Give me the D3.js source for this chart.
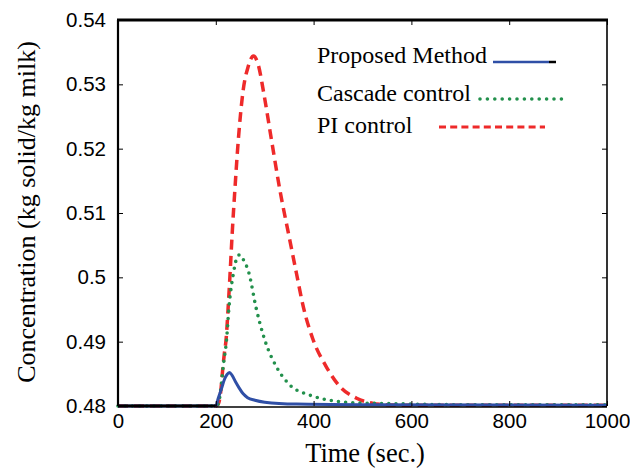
<!DOCTYPE html>
<html><head><meta charset="utf-8">
<script src="https://cdn.jsdelivr.net/npm/d3@7"></script>
<style>body{margin:0;background:#fff}</style>
</head><body>
<svg id="c" width="630" height="472"></svg>
<script>
// ---- data ----
const xTicks = [0, 200, 400, 600, 800, 1000];
const yTicks = [0.48, 0.49, 0.50, 0.51, 0.52, 0.53, 0.54];
const yTickLabels = ["0.48", "0.49", "0.5", "0.51", "0.52", "0.53", "0.54"];
const seriesNames = ["Proposed Method", "Cascade control", "PI control"];

const piT = [0, 200, 205, 210, 214, 218, 221, 225, 229, 233.5, 239, 246, 256, 266, 277, 288, 297, 314, 331, 350, 365, 379, 399, 426, 454, 488, 522, 549, 600, 700, 1000];
const piV = [0.48, 0.48, 0.4803, 0.4822, 0.4856, 0.4885, 0.4903, 0.4950, 0.5003, 0.5068, 0.5136, 0.5213, 0.5291, 0.5327, 0.5344, 0.5327, 0.5291, 0.5213, 0.5136, 0.5063, 0.5006, 0.4954, 0.4903, 0.4861, 0.4830, 0.4812, 0.4804, 0.4802, 0.4801, 0.4801, 0.4801];

const cascT = [0, 200, 205, 210, 215, 222, 227, 236, 243, 249, 256, 268, 282, 300, 324, 351, 392, 440, 481, 535, 600, 700, 1000];
const cascV = [0.48, 0.48, 0.4803, 0.4825, 0.4861, 0.4903, 0.4954, 0.5006, 0.5030, 0.5035, 0.5028, 0.5006, 0.4954, 0.4903, 0.4861, 0.4833, 0.4817, 0.4808, 0.4805, 0.4804, 0.4803, 0.4802, 0.4802];

const propT = [0, 200, 205, 212, 218, 223, 228, 233, 240, 247, 256, 265, 280, 300, 365, 500, 1000];
const propV = [0.48, 0.48, 0.4812, 0.4828, 0.4842, 0.4849, 0.4852, 0.4848, 0.4838, 0.4829, 0.4819, 0.4813, 0.4809, 0.4806, 0.4803, 0.4802, 0.4801];

// ---- layout ----
const L = 118, R = 607, T = 20, B = 406;
const svg = d3.select("#c");
const x = d3.scaleLinear().domain([0, 1000]).range([L, R]);
const y = d3.scaleLinear().domain([0.48, 0.54]).range([B, T]);
const sans = "'Liberation Sans', Arial, sans-serif";
const serif = "'Liberation Serif', 'Times New Roman', serif";

const colors = ["#2f4fa6", "#22904c", "#ee2a2a"];

// lines
const line = d3.line().x(d => x(d[0])).y(d => y(d[1])).curve(d3.curveMonotoneX);
const zip = (a, b) => a.map((t, i) => [t, b[i]]);

const g = svg.append("g");
g.append("path").datum(zip(piT, piV)).attr("d", line)
  .attr("fill", "none").attr("stroke", colors[2]).attr("stroke-width", 3.5)
  .attr("stroke-dasharray", "10,6");
g.append("path").datum(zip(cascT, cascV)).attr("d", line)
  .attr("fill", "none").attr("stroke", colors[1]).attr("stroke-width", 3.6)
  .attr("stroke-linecap", "round").attr("stroke-dasharray", "0,7.2");
g.append("path").datum(zip(propT, propV)).attr("d", line)
  .attr("fill", "none").attr("stroke", colors[0]).attr("stroke-width", 3);

// axes (ticks inward)
const xAxis = d3.axisBottom(x).tickValues(xTicks).tickSizeInner(-5).tickSizeOuter(0).tickPadding(7.5).tickFormat(d3.format("d"));
const xg = svg.append("g").attr("transform", `translate(0,${B})`).call(xAxis);
const yAxis = d3.axisLeft(y).tickValues(yTicks).tickSizeInner(-5).tickSizeOuter(0).tickPadding(12)
  .tickFormat((d, i) => yTickLabels[i]);
const yg = svg.append("g").attr("transform", `translate(${L},0)`).call(yAxis);
const xTop = d3.axisTop(x).tickValues(xTicks).tickSizeInner(-5).tickSizeOuter(0).tickFormat("");
svg.append("g").attr("transform", `translate(0,${T})`).call(xTop);
const yRight = d3.axisRight(y).tickValues(yTicks).tickSizeInner(-5).tickSizeOuter(0).tickFormat("");
svg.append("g").attr("transform", `translate(${R},0)`).call(yRight);

svg.selectAll(".domain").remove();
svg.selectAll(".tick line").attr("stroke", "#000").attr("stroke-width", 1);
svg.selectAll(".tick text").attr("font-family", sans).attr("font-size", 20.5).attr("fill", "#000");

// frame
svg.append("line").attr("x1", L - 1).attr("x2", R + 1).attr("y1", T).attr("y2", T).attr("stroke", "#000").attr("stroke-width", 2.8);
svg.append("line").attr("x1", R).attr("x2", R).attr("y1", T).attr("y2", B).attr("stroke", "#000").attr("stroke-width", 1.6);
svg.append("line").attr("x1", L).attr("x2", L).attr("y1", T).attr("y2", B).attr("stroke", "#000").attr("stroke-width", 2.2);
svg.append("line").attr("x1", L).attr("x2", x(200)).attr("y1", B).attr("y2", B).attr("stroke", "#000").attr("stroke-width", 3.2);
svg.append("line").attr("x1", x(200)).attr("x2", R).attr("y1", B + 1).attr("y2", B + 1).attr("stroke", "#000").attr("stroke-width", 1.4);

// axis titles
svg.append("text").attr("x", 365).attr("y", 462).attr("text-anchor", "middle")
  .attr("font-family", serif).attr("font-size", 26.5).text("Time (sec.)");
svg.append("text").attr("transform", "translate(35,212) rotate(-90)").attr("text-anchor", "middle")
  .attr("font-family", serif).attr("font-size", 26).text("Concentration (kg solid/kg milk)");

// legend
const legY = [62, 99, 127];
const legText = [62, 100, 132];
const legX1 = [493, 480, 439], legX2 = [549, 562, 545];
seriesNames.forEach((n, i) => {
  svg.append("text").attr("x", 317).attr("y", legText[i] + 1).attr("font-family", serif)
    .attr("font-size", 24).attr("fill", "#000").text(n);
});
svg.append("line").attr("x1", legX1[0]).attr("x2", legX2[0]).attr("y1", legY[0]).attr("y2", legY[0])
  .attr("stroke", colors[0]).attr("stroke-width", 2.5);
svg.append("line").attr("x1", legX2[0]).attr("x2", legX2[0] + 7).attr("y1", legY[0]).attr("y2", legY[0])
  .attr("stroke", "#000").attr("stroke-width", 2.5);
svg.append("line").attr("x1", legX1[1]).attr("x2", legX2[1]).attr("y1", legY[1]).attr("y2", legY[1])
  .attr("stroke", colors[1]).attr("stroke-width", 3.6).attr("stroke-linecap", "round").attr("stroke-dasharray", "0,7.4");
svg.append("line").attr("x1", legX1[2]).attr("x2", legX2[2]).attr("y1", legY[2]).attr("y2", legY[2])
  .attr("stroke", colors[2]).attr("stroke-width", 3).attr("stroke-dasharray", "7,4.2");
</script>
</body></html>
